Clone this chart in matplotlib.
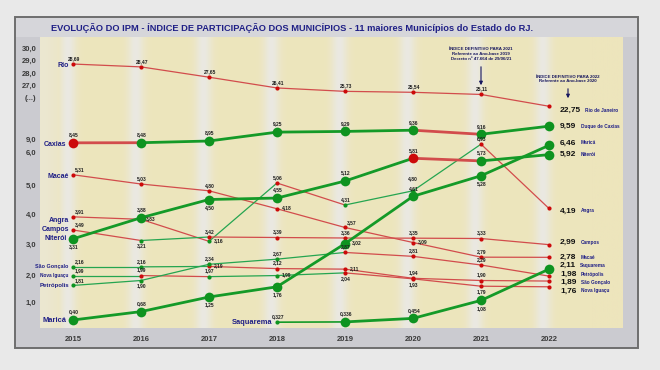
import numpy as np
import matplotlib
matplotlib.use("Agg")
import matplotlib.pyplot as plt
from matplotlib.patches import Rectangle

plt.rcParams['font.family'] = ['Liberation Sans', 'DejaVu Sans']

# ---------------- data ----------------
years = [2015, 2016, 2017, 2018, 2019, 2020, 2021, 2022]
rio = [28.69, 28.47, 27.65, 26.41, 25.73, 25.54, 25.11, 22.75]
caxias = [8.45, 8.48, 8.95, 9.25, 9.29, 9.36, 9.16, 9.59]
macae = [5.31, 5.03, 4.80, 4.18, 3.57, 3.09, 2.79, 2.78]
angra = [3.91, 3.83, 3.16, 5.06, 4.31, 4.80, 6.93, 4.19]
campos = [3.49, 3.21, 3.42, 3.39, 3.36, 3.35, 3.33, 2.99]
niteroi = [3.31, 3.88, 4.50, 4.55, 5.12, 5.81, 5.73, 5.92]
sao_goncalo = [2.16, 2.16, 2.19, 2.12, 2.11, 1.94, 1.90, 1.89]
nova_iguacu = [1.99, 1.99, 1.97, 1.99, 2.04, 1.93, 1.79, 1.76]
petropolis = [1.81, 1.90, 2.34, 2.67, 2.87, 2.81, 2.29, 1.98]
marica = [0.40, 0.68, 1.25, 1.76, 3.02, 4.61, 5.28, 6.46]
saquarema_years = [2018, 2019, 2020, 2021, 2022]
saquarema = [0.327, 0.336, 0.454, 1.08, 2.11]

ytick_values = [1, 2, 3, 4, 5, 6, 9, 24.6, 27, 28, 29, 30]
ytick_labels = ['1,0', '2,0', '3,0', '4,0', '5,0', '6,0', '9,0', '(...)',
                '27,0', '28,0', '29,0', '30,0']

title = ("EVOLUÇÃO DO IPM - ÍNDICE DE PARTICIPAÇÃO DOS MUNICÍPIOS - "
         "11 maiores Municípios do Estado do RJ.")
note_2021 = "ÍNDICE DEFINITIVO PARA 2021\nReferente ao Ano-base 2019\nDecreto nº 47.664 de 29/06/21"
note_2022 = "ÍNDICE DEFINITIVO PARA 2022\nReferente ao Ano-base 2020"

# ---------------- styles ----------------
RED_LINE = '#d24c4c'
RED_MK = '#cc0a0a'
GREEN_THICK = '#149a28'
GREEN_THIN = '#25a550'
GREEN_MK = '#0e9320'
NAVY = '#1f1f86'

# (xs, ys, left name, right name, seg colours, marker colours, thick?, label pos,
#  decimals, left-label dy, right-label dy)
series = [
    (years, rio, 'Rio', 'Rio de Janeiro', 'rrrrrrr', 'rrrrrrrr', False, 'aaaaaaa-', '2', -1.4, -2.7),
    (years, caxias, 'Caxias', 'Duque de Caxias', 'rggggrg', 'rggggggg', True, 'aaaaaaa-', '2', -1.5, 0),
    (years, macae, 'Macaé', 'Macaé', 'rrrrrrr', 'rrrrrrrr', False, 'RaarRra-', '2', -1.4, 0.2),
    (years, angra, 'Angra', 'Angra', 'rrgrggr', 'rrgrggrr', False, 'RrraaAa-', '2', -2.3, -1.8),
    (years, campos, 'Campos', 'Campos', 'rgrrrrr', 'rgrrrrrr', False, 'Rbaaaaa-', '2', 0.7, 1.9),
    (years, niteroi, 'Niterói', 'Niterói', 'gggggrg', 'gggggrgg', True, 'babaaaa-', '2', 0, 0),
    (years, sao_goncalo, 'São Gonçalo', 'São Gonçalo', 'ggrrrrr', 'ggrrrrrr', False, 'Rararaa-', '2', 0, -1.1),
    (years, nova_iguacu, 'Nova Iguaçu', 'Nova Iguaçu', 'grggrrr', 'grggrrrr', False, 'Raarbbb-', '2', 0, -3.0),
    (years, petropolis, 'Petrópolis', 'Petrópolis', 'ggggrrr', 'ggggrrrr', False, 'Rbaaaaa-', '2', 0, 1.5),
    (years, marica, 'Maricá', 'Maricá', 'ggggggg', 'gggggggg', True, 'aabbrab-', '2', 0, 1.7),
    (saquarema_years, saquarema, 'Saquarema', 'Saquarema', 'gggg', 'sgggg', True, 'aaab-', '33322', 0, 2.6),
]

# ---------------- custom broken-looking scale ----------------
sv = np.array([-1, 1, 1.8, 2.0, 2.15, 2.5, 2.8, 3, 3.42, 3.49, 4, 5, 6, 6.4, 7, 8.4, 8.95,
               9.2, 9.6, 22, 27, 28, 29, 30, 32], float)
sp = np.array([362, 302, 286, 275, 267, 262, 257, 244, 237, 230, 214, 185, 152, 145.5, 144, 143, 141,
               133, 126, 110, 85, 73, 60, 48, 24], float)


def fwd(v):
    return -np.interp(np.asarray(v, float), sv, sp)


def inv(t):
    return np.interp(np.asarray(t, float), -sp, sv)


W, H = 660, 370
fig = plt.figure(figsize=(6.6, 3.7), dpi=100)
fig.patch.set_facecolor('#e9e9e9')

# frame
fig.patches.append(Rectangle((15 / W, 1 - 348 / H), 623 / W, 331 / H, transform=fig.transFigure,
                             facecolor='#cbcbd0', edgecolor='#6e6e6e', lw=1.4, zorder=-3))
fig.patches.append(Rectangle((16 / W, 1 - 37 / H), 621 / W, 19 / H, transform=fig.transFigure,
                             facecolor='#d6d6da', edgecolor='none', zorder=-2))

ax_l, ax_t, ax_r, ax_b = 40, 37, 623, 328
ax = fig.add_axes([ax_l / W, 1 - ax_b / H, (ax_r - ax_l) / W, (ax_b - ax_t) / H])
ax.set_yscale('function', functions=(fwd, inv))
x0 = 2015 - (73 - ax_l) / 68.0
x1 = 2022 + (ax_r - 549) / 68.0
ax.set_xlim(x0, x1)
ax.set_ylim(float(inv(-ax_b)), float(inv(-ax_t)))

# background stripes (gradient)
xs = np.linspace(x0, x1, 600)
base = np.array([237, 229, 188]) / 255.0
light = np.array([234, 233, 226]) / 255.0
w = np.zeros_like(xs)
for yv in years:
    w = np.maximum(w, np.exp(-0.5 * ((xs - (yv - 0.08)) / 0.085) ** 2))
w = np.maximum(w, 0.55 * np.exp(-0.5 * ((xs - x0) / 0.25) ** 2))
img = base[None, :] * (1 - w[:, None]) + light[None, :] * w[:, None]
ax.imshow(img[None, :, :], extent=[0, 1, 0, 1], transform=ax.transAxes, aspect='auto', zorder=0)

for s in ax.spines.values():
    s.set_visible(False)
ax.set_xticks(years)
ax.set_xticklabels([str(y) for y in years], fontsize=5.5, fontweight='bold', color='#3a3a3a')
ax.set_yticks(ytick_values)
ax.set_yticklabels(ytick_labels, fontsize=5.5, fontweight='bold', color='#3a3a3a')
ax.yaxis.set_minor_locator(matplotlib.ticker.NullLocator())
ax.tick_params(axis='both', length=0)
ax.tick_params(axis='x', pad=5.5)
ax.tick_params(axis='y', pad=2.5)


def fmt(v, d):
    return f"{v:.{d}f}".replace('.', ',')


for xs_, ys_, lname, rname, segc, mkc, thick, labpos, dec, ldy, rdy in series:
    lw = 2.0 if thick else 0.9
    for i in range(len(xs_) - 1):
        c = segc[i]
        if c == 'r':
            col = RED_LINE
        else:
            col = GREEN_THICK if thick else GREEN_THIN
        seg_lw = lw
        if thick and mkc[i] == 's':
            seg_lw = 1.2
        ax.plot(xs_[i:i + 2], ys_[i:i + 2], color=col, lw=seg_lw, solid_capstyle='round', zorder=3)
    for i, (xv, yv) in enumerate(zip(xs_, ys_)):
        m = mkc[i]
        big = thick and m != 's'
        col = RED_MK if m == 'r' else GREEN_MK
        ax.plot([xv], [yv], 'o', ms=7.0 if big else 3.0, color=col, mec='none', zorder=4)
        p = labpos[i]
        off = 4.0 if big else 2.2
        d = int(dec[i] if len(dec) > 1 else dec)
        txt = fmt(yv, d)
        kw = dict(textcoords='offset points', fontsize=3.6, fontweight='bold', color='#202020', zorder=5)
        if p == 'a':
            ax.annotate(txt, (xv, yv), xytext=(0.5, off), ha='center', va='bottom', **kw)
        elif p == 'A':
            ax.annotate(txt, (xv, yv), xytext=(0, off + 4.5), ha='center', va='bottom', **kw)
        elif p == 'b':
            ax.annotate(txt, (xv, yv), xytext=(0.5, -off), ha='center', va='top', **kw)
        elif p == 'r':
            ax.annotate(txt, (xv, yv), xytext=(off + 1, 0.5), ha='left', va='center', **kw)
        elif p == 'R':
            ax.annotate(txt, (xv, yv), xytext=(1.5, off - 0.5), ha='left', va='bottom', **kw)
    # left label
    big0 = thick and mkc[0] != 's'
    fs = 5.0
    if lname in ('São Gonçalo',):
        fs = 3.9
    elif lname in ('Nova Iguaçu',):
        fs = 3.4
    elif lname in ('Petrópolis',):
        fs = 4.3
    elif lname in ('Maricá', 'Saquarema'):
        fs = 5.4
    ax.annotate(lname, (xs_[0], ys_[0]), xytext=(-4.5 if big0 else -3, ldy), textcoords='offset points',
                ha='right', va='center', fontsize=fs, fontweight='bold', color=NAVY, zorder=5)
    # right labels
    vt = ax.annotate(fmt(ys_[-1], 2), (xs_[-1], ys_[-1]), xytext=(8, rdy), textcoords='offset points',
                     ha='left', va='center', fontsize=6.0, fontweight='bold', color='#111111',
                     annotation_clip=False, zorder=5)
    ax.annotate(rname, xy=(1, 0.5), xycoords=vt, xytext=(3, 0), textcoords='offset points',
                ha='left', va='center', fontsize=3.4, fontweight='bold', color=NAVY,
                annotation_clip=False, zorder=5)

# title
fig.text(292 / W, 1 - 28 / H, title, ha='center', va='center', fontsize=6.7, fontweight='bold', color=NAVY)

# notes with arrows
def frac(py):
    return (ax_b - py) / (ax_b - ax_t)

ax.annotate('', xy=(2021, frac(88)), xycoords=('data', 'axes fraction'),
            xytext=(2021, frac(64)), textcoords=('data', 'axes fraction'),
            arrowprops=dict(arrowstyle='-|>', color='#16165e', lw=0.8, mutation_scale=5), annotation_clip=False)
ax.text(2021, frac(54), note_2021, transform=ax.get_xaxis_transform(), ha='center', va='center',
        fontsize=3.2, fontweight='bold', color='#16165e', linespacing=1.25)
x22 = 2022 + (568 - 549) / 68.0
ax.annotate('', xy=(x22, frac(101)), xycoords=('data', 'axes fraction'),
            xytext=(x22, frac(86)), textcoords=('data', 'axes fraction'),
            arrowprops=dict(arrowstyle='-|>', color='#16165e', lw=0.8, mutation_scale=5), annotation_clip=False)
ax.text(x22, frac(79), note_2022, transform=ax.get_xaxis_transform(), ha='center', va='center',
        fontsize=3.2, fontweight='bold', color='#16165e', linespacing=1.25)

fig.savefig('out.png', dpi=100, facecolor=fig.get_facecolor())
